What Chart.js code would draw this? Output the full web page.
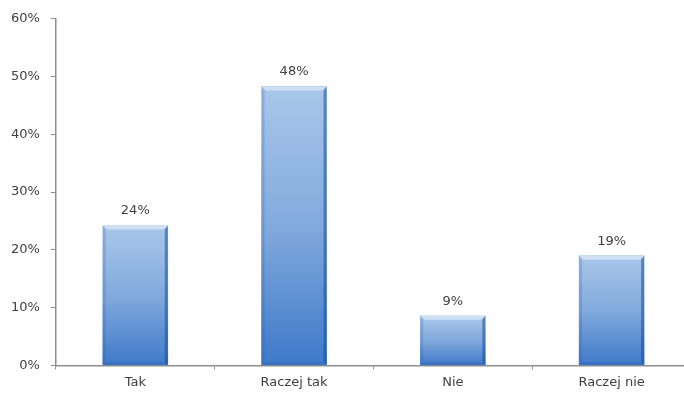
<!DOCTYPE html>
<html>
<head>
<meta charset="utf-8">
<script src="https://cdn.jsdelivr.net/npm/chart.js@4.4.0/dist/chart.umd.min.js"></script>
<style>
  html, body { margin: 0; padding: 0; background: #fff; overflow: hidden; }
  body { width: 684px; height: 393px; }
  #wrap { width: 691px; height: 393px; }
</style>
</head>
<body>
<div id="wrap"><canvas id="answersChart"></canvas></div>
<script>
const categories = ["Tak", "Raczej tak", "Nie", "Raczej nie"];
const shares = [24.2, 48.3, 8.6, 19.0];
const yTicks = [0, 10, 20, 30, 40, 50, 60];

const textColor = '#404040';
const axisColor = '#8e8e8e';
const fontFamily = "'DejaVu Sans', sans-serif";

// gradient per bar, light on top and darker at the base
function barFill(context) {
    let chart = context.chart;
    let yScale = chart.scales.y;
    if (!yScale || !chart.chartArea) return '#6d9bd6';
    let top = yScale.getPixelForValue(context.raw);
    let bottom = yScale.getPixelForValue(0);
    let g = chart.ctx.createLinearGradient(0, top, 0, bottom);
    g.addColorStop(0, '#a9c7ea');
    g.addColorStop(0.5, '#82aadd');
    g.addColorStop(1, '#3e79c9');
    return g;
}

// bevel edges and value labels
const barExtras = {
    id: 'barExtras',
    afterDatasetsDraw(chart) {
        let ctx = chart.ctx;
        let meta = chart.getDatasetMeta(0);
        meta.data.forEach(function(bar, i) {
            let left = bar.x - bar.width / 2;
            let right = bar.x + bar.width / 2;
            let top = bar.y;
            let bottom = bar.base;
            ctx.save();
            // right dark edge
            ctx.fillStyle = 'rgba(25, 75, 155, 0.55)';
            ctx.beginPath();
            ctx.moveTo(right, top);
            ctx.lineTo(right, bottom);
            ctx.lineTo(right - 3, bottom - 3);
            ctx.lineTo(right - 3, top + 4);
            ctx.closePath();
            ctx.fill();
            // left soft edge
            ctx.fillStyle = 'rgba(40, 90, 170, 0.22)';
            ctx.beginPath();
            ctx.moveTo(left, top);
            ctx.lineTo(left, bottom);
            ctx.lineTo(left + 3, bottom - 3);
            ctx.lineTo(left + 3, top + 4);
            ctx.closePath();
            ctx.fill();
            // bottom shade
            ctx.fillStyle = 'rgba(30, 80, 160, 0.18)';
            ctx.beginPath();
            ctx.moveTo(left, bottom);
            ctx.lineTo(right, bottom);
            ctx.lineTo(right - 3, bottom - 3);
            ctx.lineTo(left + 3, bottom - 3);
            ctx.closePath();
            ctx.fill();
            // top highlight
            ctx.fillStyle = 'rgba(255, 255, 255, 0.45)';
            ctx.beginPath();
            ctx.moveTo(left, top);
            ctx.lineTo(right, top);
            ctx.lineTo(right - 4, top + 4);
            ctx.lineTo(left + 4, top + 4);
            ctx.closePath();
            ctx.fill();
            ctx.restore();

            ctx.save();
            ctx.fillStyle = textColor;
            ctx.font = "13px " + fontFamily;
            ctx.textAlign = 'center';
            ctx.textBaseline = 'bottom';
            ctx.fillText(Math.round(shares[i]) + '%', bar.x, top - 8);
            ctx.restore();
        });
    }
};

let ctx = document.getElementById('answersChart').getContext('2d');
let answersChart = new Chart(ctx, {
    type: 'bar',
    data: {
        labels: categories,
        datasets: [{
            data: shares,
            backgroundColor: barFill,
            borderWidth: 0,
            barThickness: 65
        }]
    },
    options: {
        responsive: true,
        maintainAspectRatio: false,
        animation: false,
        layout: { padding: { top: 18, right: 0, left: 0, bottom: -2 } },
        plugins: {
            legend: { display: false },
            tooltip: { enabled: false }
        },
        scales: {
            y: {
                min: 0,
                max: 60,
                afterBuildTicks: function(axis) {
                    axis.ticks = yTicks.map(v => ({ value: v }));
                },
                ticks: {
                    color: textColor,
                    font: { family: fontFamily, size: 13 },
                    padding: 11,
                    callback: v => v + '%'
                },
                grid: {
                    drawOnChartArea: false,
                    drawTicks: true,
                    tickLength: 5,
                    color: axisColor,
                    lineWidth: 1
                },
                border: { color: axisColor, width: 1.5 }
            },
            x: {
                offset: true,
                ticks: {
                    color: textColor,
                    font: { family: fontFamily, size: 13 },
                    padding: 5
                },
                grid: {
                    offset: true,
                    drawOnChartArea: false,
                    drawTicks: true,
                    tickLength: 4,
                    color: axisColor,
                    lineWidth: 1
                },
                border: { color: axisColor, width: 1.5 }
            }
        }
    },
    plugins: [barExtras]
});
</script>
</body>
</html>
